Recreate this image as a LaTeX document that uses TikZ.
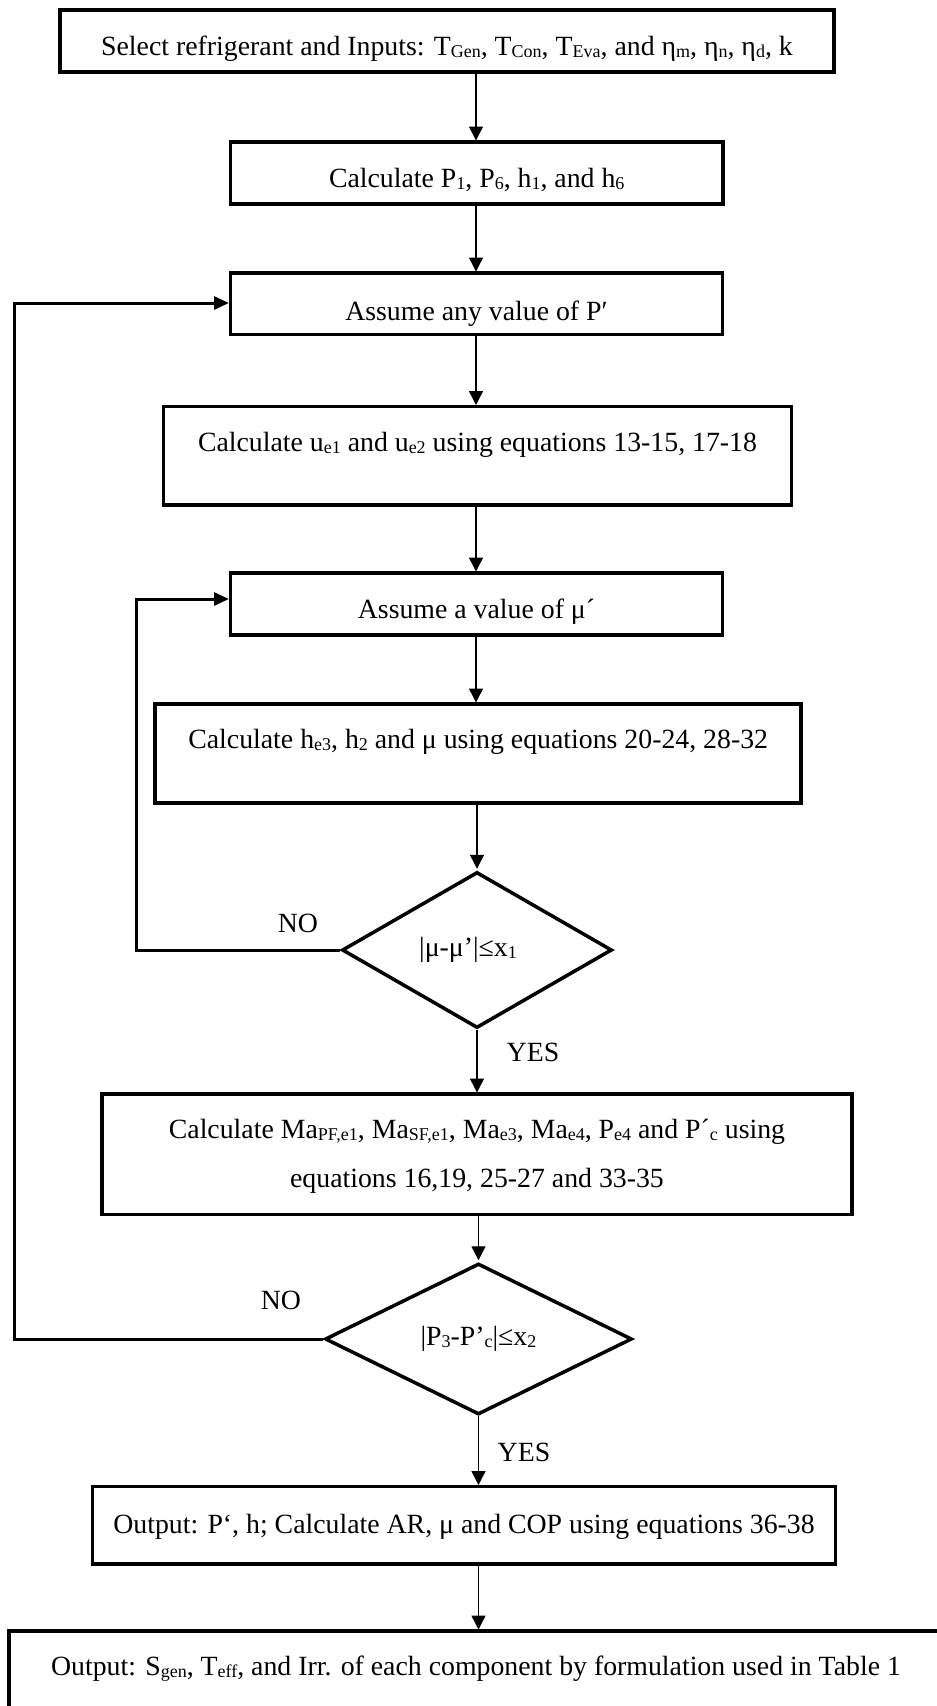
\documentclass[tikz,border=0pt]{standalone}
\usepackage{fontspec}
\setmainfont{Liberation Serif}
\usetikzlibrary{arrows.meta,shapes.geometric}
\newcommand{\lsub}[1]{\raisebox{-2pt}{\fontsize{18}{18}\selectfont #1}}
\begin{document}
\begin{tikzpicture}[x=1pt,y=-1pt,
  every node/.style={font=\fontsize{27.8}{32}\selectfont, inner sep=0pt},
  box/.style={draw, line width=3.5pt, rectangle, outer sep=0pt, anchor=north},
  dia/.style={draw, line width=3.5pt, diamond, inner sep=0pt},
  arr/.style={line width=1.4pt, -{Triangle[length=14pt,width=14pt]}, shorten >=1.5pt},
  back/.style={line width=3pt, -{Triangle[length=15pt,width=13pt]}, shorten >=1.5pt}]
\path[fill=white, use as bounding box] (0,0) rectangle (937,1706);

\node[box, minimum width=774pt, text height=45pt, text depth=17pt] (B1) at (447,10)
  {Select refrigerant and Inputs: T\lsub{Gen}, T\lsub{Con}, T\lsub{Eva}, and η\lsub{m}, η\lsub{n}, η\lsub{d}, k};
\node[box, minimum width=492.5pt, text height=45pt, text depth=17pt] (B2) at (476.75,142)
  {Calculate P\lsub{1}, P\lsub{6}, h\lsub{1}, and h\lsub{6}};
\node[box, minimum width=492pt, text height=47pt, text depth=14.5pt] (B3) at (476.5,273)
  {Assume any value of P′};
\node[box, minimum width=628pt, text height=45.2pt, text depth=53.3pt] (B4) at (477.5,406.5)
  {Calculate u\lsub{e1} and u\lsub{e2} using equations 13-15, 17-18};
\node[box, minimum width=492pt, text height=45pt, text depth=17pt] (B5) at (476.5,573)
  {Assume a value of μ´};
\node[box, minimum width=646pt, text height=44pt, text depth=55pt] (B6) at (478.2,704)
  {Calculate h\lsub{e3}, h\lsub{2} and μ using equations 20-24, 28-32};
\node[dia, minimum width=270pt, minimum height=156pt] (D1) at (477,950)
  {\hspace*{-18pt}|μ-μ’|≤x\lsub{1}};
\node[box, minimum width=750pt, text height=44pt, text depth=76.5pt] (B7) at (477,1094)
  {\begin{tabular}[t]{@{}c@{}}Calculate Ma\lsub{PF,e1}, Ma\lsub{SF,e1}, Ma\lsub{e3}, Ma\lsub{e4}, P\lsub{e4} and P´\lsub{c} using\\[17pt]
   equations 16,19, 25-27 and 33-35\end{tabular}};
\node[dia, minimum width=307pt, minimum height=151pt] (D2) at (478.5,1339)
  {|P\lsub{3}-P’\lsub{c}|≤x\lsub{2}};
\node[box, minimum width=743pt, text height=46.5pt, text depth=31pt] (B8) at (464,1486.5)
  {Output: P‘, h; Calculate AR, μ and COP using equations 36-38};
\node[box, minimum width=934pt, text height=44pt, text depth=80pt] (B9) at (476,1631)
  {Output: S\lsub{gen}, T\lsub{eff}, and Irr. of each component by formulation used in Table 1};

\node (no1) at (298,923) {NO};
\node (yes1) at (533,1052) {YES};
\node (no2) at (281,1300) {NO};
\node (yes2) at (524,1452) {YES};

\coordinate (cx) at (476,0);
\draw[arr] (B1.south -| cx) -- (B2.north -| cx);
\draw[arr] (B2.south -| cx) -- (B3.north -| cx);
\draw[arr] (B3.south -| cx) -- (B4.north -| cx);
\draw[arr] (B4.south -| cx) -- (B5.north -| cx);
\draw[arr] (B5.south -| cx) -- (B6.north -| cx);
\draw[arr] (B6.south -| D1.north) -- (D1.north);
\draw[arr] (D1.south) -- (B7.north -| D1.south);
\draw[arr] (B7.south -| D2.north) -- (D2.north);
\draw[arr] (D2.south) -- (B8.north -| D2.south);
\draw[arr] (B8.south -| D2.south) -- (B9.north -| D2.south);

\coordinate (Lin) at (136,599);
\coordinate (Lout) at (14,303);
\draw[back] (D1.west) -| (Lin) -- (Lin -| B5.west);
\draw[back] (D2.west) -| (Lout) -- (Lout -| B3.west);
\end{tikzpicture}
\end{document}
